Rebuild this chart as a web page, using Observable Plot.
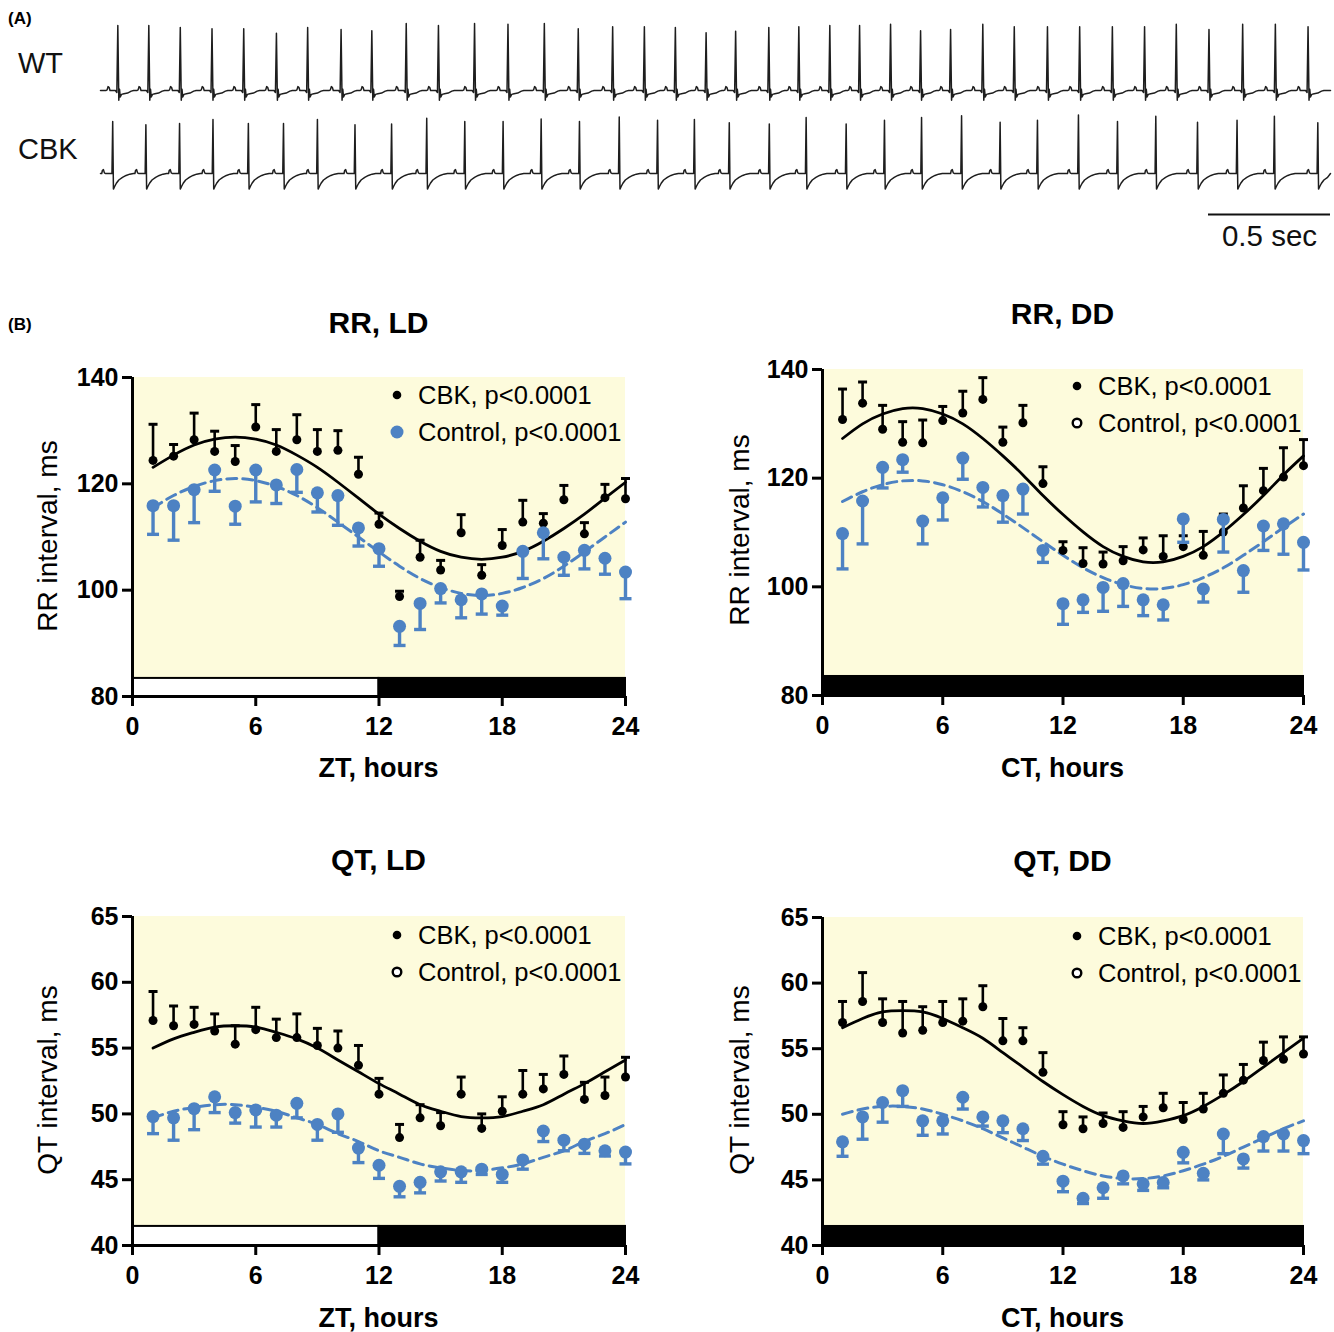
<!DOCTYPE html>
<html>
<head>
<meta charset="utf-8">
<script src="https://cdn.jsdelivr.net/npm/d3@7"></script>
<script src="https://cdn.jsdelivr.net/npm/@observablehq/plot@0.6"></script>
<style>
  html, body { margin: 0; padding: 0; background: #fff; }
  #root { position: relative; width: 1334px; height: 1332px; background: #fff; overflow: hidden;
          font-family: Arial, "Liberation Sans", sans-serif; color: #000; }
  .abs { position: absolute; white-space: nowrap; }
  .plotbox { position: absolute; }
  .plotbox svg { overflow: visible; }
</style>
</head>
<body>
<div id="root"></div>
<script>
// ---------------- DATA ----------------
const hours = [1,2,3,4,5,6,7,8,9,10,11,12,13,14,15,16,17,18,19,20,21,22,23,24];

// RR, LD
const rrLdCbk    = [124.4,125.2,128.3,126.1,124.2,130.7,126.1,128.3,126.1,126.3,121.8,112.4,98.8,106.2,103.8,110.8,102.8,108.4,112.8,112.6,117.0,110.6,117.4,117.2];
const rrLdCbkSem = [6.8,2.2,5.0,3.8,3.0,4.2,4.1,4.7,4.1,3.7,3.2,2.1,1.0,3.2,1.8,3.4,2.0,3.0,4.1,1.8,2.7,2.1,2.5,3.8];
const rrLdCtl    = [115.9,115.9,118.9,122.6,115.8,122.6,119.8,122.7,118.3,117.8,111.7,107.8,93.2,97.5,100.3,98.2,99.3,97.0,107.3,110.8,106.2,107.5,106.0,103.4];
const rrLdCtlSem = [5.4,6.5,6.2,4.0,3.4,6.0,3.5,4.3,3.6,5.6,3.4,3.3,3.6,4.9,2.7,3.4,3.8,1.7,5.1,4.9,3.4,3.5,3.0,5.0];
const rrLdCbkFit = [123.1,125.4,127.3,128.4,128.8,128.4,127.3,125.4,123.1,120.3,117.3,114.3,111.6,109.2,107.3,106.2,105.8,106.2,107.3,109.2,111.6,114.3,117.3,120.3];
const rrLdCtlFit = [115.5,117.8,119.5,120.6,121.0,120.6,119.5,117.8,115.5,112.8,110.0,107.2,104.5,102.2,100.5,99.4,99.0,99.4,100.5,102.2,104.5,107.2,110.0,112.8];

// RR, DD
const rrDdCbk    = [130.8,133.8,129.0,126.6,126.5,130.6,132.0,134.5,126.6,130.2,119.0,106.7,104.3,104.2,104.8,106.8,105.6,107.4,105.8,110.1,114.5,117.7,120.2,122.3];
const rrDdCbkSem = [5.6,3.9,4.4,3.8,4.2,2.6,4.0,4.0,2.8,3.2,3.1,1.6,2.9,2.2,2.6,2.2,3.8,2.0,4.4,3.3,4.1,4.1,5.4,4.8];
const rrDdCtl    = [109.8,115.8,122.0,123.4,112.1,116.4,123.7,118.3,116.8,118.0,106.7,96.9,97.6,99.9,100.6,97.6,96.7,112.5,99.6,112.4,103.0,111.2,111.6,108.2];
const rrDdCtlSem = [6.5,7.9,3.8,2.3,4.2,4.1,3.9,3.6,4.9,4.6,2.2,3.8,2.3,4.4,4.2,2.9,2.8,4.3,2.4,6.0,4.0,4.5,5.6,5.1];
const rrDdCbkFit = [127.3,130.0,131.8,132.8,132.8,131.8,130.0,127.3,124.1,120.6,116.8,113.3,110.1,107.4,105.6,104.6,104.6,105.6,107.4,110.1,113.3,116.8,120.6,124.1];
const rrDdCtlFit = [115.7,117.5,118.8,119.5,119.5,118.8,117.5,115.7,113.4,110.9,108.3,105.8,103.5,101.7,100.4,99.7,99.7,100.4,101.7,103.5,105.8,108.3,110.9,113.4];

// QT, LD
const qtLdCbk    = [57.1,56.7,56.8,56.3,55.3,56.4,55.8,55.8,55.2,55.0,53.7,51.5,48.2,49.7,49.1,51.5,48.9,50.2,51.5,51.9,53.0,51.1,51.4,52.8];
const qtLdCbkSem = [2.2,1.5,1.3,1.3,1.4,1.7,1.4,1.8,1.3,1.3,1.5,1.2,1.0,1.0,1.0,1.3,1.1,1.1,1.8,1.1,1.4,1.3,1.4,1.5];
const qtLdCtl    = [49.8,49.7,50.4,51.3,50.1,50.3,49.9,50.8,49.2,50.0,47.4,46.1,44.5,44.8,45.6,45.6,45.8,45.4,46.5,48.7,48.0,47.7,47.2,47.1];
const qtLdCtlSem = [1.3,1.7,1.6,1.2,0.8,1.3,0.9,1.1,1.2,1.4,1.1,1.0,0.8,0.8,0.7,0.8,0.4,0.6,0.7,0.8,0.8,0.7,0.4,0.9];
const qtLdCbkFit = [55.0,55.7,56.2,56.6,56.7,56.6,56.2,55.7,55.0,54.1,53.2,52.3,51.5,50.7,50.2,49.8,49.7,49.8,50.2,50.7,51.5,52.3,53.2,54.1];
const qtLdCtlFit = [49.7,50.2,50.5,50.7,50.7,50.5,50.2,49.7,49.2,48.5,47.9,47.2,46.7,46.2,45.9,45.7,45.7,45.9,46.2,46.7,47.2,47.9,48.5,49.2];

// QT, DD
const qtDdCbk    = [57.0,58.6,57.0,56.2,56.4,57.0,57.1,58.2,55.6,55.6,53.2,49.2,48.9,49.3,49.0,49.8,50.5,49.6,50.4,51.6,52.6,54.1,54.2,54.6];
const qtDdCbkSem = [1.6,2.2,1.8,2.4,1.8,1.6,1.7,1.6,1.7,1.0,1.5,1.0,0.9,0.8,1.2,0.8,1.1,1.3,1.2,1.4,1.2,1.4,1.7,1.3];
const qtDdCtl    = [47.9,49.8,50.9,51.8,49.5,49.5,51.3,49.8,49.5,48.9,46.8,44.9,43.6,44.4,45.3,44.7,44.8,47.1,45.5,48.5,46.6,48.3,48.5,48.0];
const qtDdCtlSem = [1.1,1.7,1.5,1.2,1.1,1.0,0.9,0.7,0.9,0.9,0.6,0.8,0.4,0.8,0.6,0.5,0.4,0.8,0.5,1.5,0.7,1.1,1.3,1.0];
const qtDdCbkFit = [56.6,57.3,57.8,57.9,57.8,57.3,56.6,55.8,54.7,53.6,52.5,51.5,50.6,49.9,49.5,49.3,49.5,49.9,50.6,51.5,52.5,53.6,54.7,55.8];
const qtDdCtlFit = [50.0,50.4,50.6,50.6,50.4,50.0,49.5,48.9,48.2,47.5,46.8,46.2,45.7,45.3,45.1,45.1,45.3,45.7,46.2,46.8,47.5,48.2,48.9,49.5];

const rrTicks = [80,100,120,140];
const qtTicks = [40,45,50,55,60,65];
const hourTicks = [0,6,12,18,24];
const ldPhases = [{start: 0, end: 12, light: true}, {start: 12, end: 24, light: false}];
const ddPhases = [{start: 0, end: 24, light: false}];
const legendLabels = ["CBK, p<0.0001", "Control, p<0.0001"];

// ECG traces (panel A): R-peak times (s) and R amplitudes (mV, approx.)
const wtBeatTimes = [0.071,0.198,0.327,0.457,0.587,0.721,0.849,0.986,1.112,1.253,1.385,1.533,1.670,1.819,1.958,2.099,2.229,2.356,2.482,2.603,2.739,2.862,2.989,3.111,3.238,3.361,3.484,3.616,3.745,3.881,4.013,4.147,4.279,4.409,4.543,4.681,4.815,4.949];
const wtBeatAmps  = [1.00,1.00,0.97,0.95,0.95,0.88,0.97,0.94,0.92,1.03,1.00,1.03,1.02,1.03,0.95,0.98,0.98,0.97,0.89,0.91,0.97,0.98,1.00,1.00,1.02,0.92,0.94,1.02,0.98,0.98,0.98,0.98,0.98,1.02,0.94,1.02,1.02,0.98];
const cbkBeatTimes = [0.050,0.186,0.324,0.461,0.606,0.750,0.889,1.043,1.193,1.337,1.493,1.650,1.806,1.963,2.126,2.283,2.434,2.577,2.741,2.892,3.056,3.213,3.365,3.529,3.687,3.840,4.008,4.168,4.325,4.496,4.658,4.811,4.989];
const cbkBeatAmps  = [0.80,0.75,0.77,0.83,0.77,0.77,0.83,0.75,0.76,0.85,0.80,0.80,0.84,0.80,0.87,0.82,0.83,0.78,0.76,0.86,0.76,0.82,0.86,0.89,0.79,0.82,0.90,0.80,0.88,0.79,0.82,0.88,0.78];
// beat waveform: [ms from R peak, mV]; the R point (0 ms) takes the beat amplitude
const wtBeatShape  = [[-48,0],[-44,0.01],[-40,0.06],[-36,0.05],[-32,0],[-10,0],[-4,-0.03],[0,null],[4,-0.15],[7,0.02],[10,-0.10],[15,-0.06],[25,-0.05],[40,-0.04],[55,-0.01],[65,0]];
const cbkBeatShape = [[-45,0],[-42,0.05],[-38,0.06],[-34,0.01],[-30,0],[-3,0],[0,null],[3,-0.24],[8,-0.20],[15,-0.15],[25,-0.10],[40,-0.06],[55,-0.03],[70,-0.01],[85,0]];
const traceDuration = 5.041;      // s
const scaleBar = [{t0: 4.541, t1: 5.041, label: "0.5 sec"}];

// ---------------- STYLE ----------------
const BLUE = "#4d82c3";
const YELLOW = "#fdfbdc";
const FONT = "Arial, 'Liberation Sans', sans-serif";

const root = document.getElementById("root");

function addText(txt, o) {
  const d = document.createElement("div");
  d.className = "abs";
  d.textContent = txt;
  const fs = o.size;
  d.style.fontSize = fs + "px";
  d.style.lineHeight = fs + "px";
  d.style.fontWeight = o.bold ? "bold" : "normal";
  if (o.family) d.style.fontFamily = o.family;
  if (o.color) d.style.color = o.color;
  if (o.center) {
    d.style.width = "400px";
    d.style.textAlign = "center";
    d.style.left = (o.cx - 200) + "px";
    d.style.top = (o.cy - 0.49 * fs) + "px";
  } else {
    d.style.left = o.x + "px";
    d.style.top = (o.cy - 0.49 * fs) + "px";
  }
  if (o.rotate) {
    d.style.height = fs + "px";
    d.style.top = (o.cy - fs / 2) + "px";
    d.style.transform = "rotate(-90deg)";
  }
  root.appendChild(d);
  return d;
}

function addBox(node, left, top) {
  const w = document.createElement("div");
  w.className = "plotbox";
  w.style.left = left + "px";
  w.style.top = top + "px";
  w.appendChild(node);
  root.appendChild(w);
}

// ---------------- PANEL A: ECG ----------------
function buildTrace(times, amps, shape) {
  const pts = [{t: 0, v: 0}];
  times.forEach((tR, i) => {
    shape.forEach(([dt, v]) => {
      const t = tR + dt / 1000;
      if (t > 0 && t < traceDuration) pts.push({t, v: v === null ? amps[i] : v});
    });
  });
  pts.push({t: traceDuration, v: 0});
  pts.sort((a, b) => a.t - b.t);
  return pts;
}
const wtTrace = buildTrace(wtBeatTimes, wtBeatAmps, wtBeatShape);
const cbkTrace = buildTrace(cbkBeatTimes, cbkBeatAmps, cbkBeatShape);

const wtPlot = Plot.plot({
  width: 1334, height: 112, margin: 0,
  style: {background: "none", overflow: "visible"},
  x: {domain: [0, traceDuration], range: [100, 1330], axis: null},
  y: {domain: [-0.3, 1.2], range: [109.5, 12], axis: null},
  marks: [Plot.line(wtTrace, {x: "t", y: "v", stroke: "#1e1e1e", strokeWidth: 1.5})]
});
addBox(wtPlot, 0, 0);

const cbkPlot = Plot.plot({
  width: 1334, height: 160, margin: 0,
  style: {background: "none", overflow: "visible", fontFamily: FONT},
  x: {domain: [0, traceDuration], range: [100, 1330], axis: null},
  y: {domain: [-0.8, 1.0], range: [125, 8], axis: null},
  marks: [
    Plot.line(cbkTrace, {x: "t", y: "v", stroke: "#1e1e1e", strokeWidth: 1.5}),
    Plot.ruleY(scaleBar, {x1: "t0", x2: "t1", y: () => -0.63, stroke: "#111", strokeWidth: 2}),
    Plot.text(scaleBar, {x: d => (d.t0 + d.t1) / 2, y: () => -0.63, text: "label", dy: 22, fontSize: 29.5, fill: "#111"})
  ]
});
addBox(cbkPlot, 0, 100);

addText("(A)", {x: 8, cy: 18, size: 17, bold: true});
addText("WT", {x: 18, cy: 63, size: 29, color: "#111"});
addText("CBK", {x: 18, cy: 149, size: 29, color: "#111"});
addText("(B)", {x: 8, cy: 324, size: 17, bold: true});

// ---------------- PANEL B: cosinor charts ----------------
const capSymbol = {
  draw(context, size) {
    const r = Math.sqrt(size / Math.PI);
    context.moveTo(-r, 0);
    context.lineTo(r, 0);
  }
};

const panels = [
  {title: "RR, LD", ylabel: "RR interval, ms", xlabel: "ZT, hours",
   cbk: rrLdCbk, cbkSem: rrLdCbkSem, ctl: rrLdCtl, ctlSem: rrLdCtlSem, cbkFit: rrLdCbkFit, ctlFit: rrLdCtlFit,
   yDomain: [80, 140], yTicks: rrTicks, barTop: 83.4, phases: ldPhases, filledLegend: true,
   box: {left: 0, top: 360, mt: 17, mb: 64, ml: 132, mr: 42},
   titleY: 323, ylabelX: 48, ylabelY: 536, xlabelY: 768, legendX: 397, legendY: [395, 432]},
  {title: "RR, DD", ylabel: "RR interval, ms", xlabel: "CT, hours",
   cbk: rrDdCbk, cbkSem: rrDdCbkSem, ctl: rrDdCtl, ctlSem: rrDdCtlSem, cbkFit: rrDdCbkFit, ctlFit: rrDdCtlFit,
   yDomain: [80, 140], yTicks: rrTicks, barTop: 83.5, phases: ddPhases, filledLegend: false,
   box: {left: 667, top: 350, mt: 19, mb: 55, ml: 155, mr: 31},
   titleY: 314, ylabelX: 740, ylabelY: 530, xlabelY: 768, legendX: 1077, legendY: [386, 423]},
  {title: "QT, LD", ylabel: "QT interval, ms", xlabel: "ZT, hours",
   cbk: qtLdCbk, cbkSem: qtLdCbkSem, ctl: qtLdCtl, ctlSem: qtLdCtlSem, cbkFit: qtLdCbkFit, ctlFit: qtLdCtlFit,
   yDomain: [40, 65], yTicks: qtTicks, barTop: 41.45, phases: ldPhases, filledLegend: false,
   box: {left: 0, top: 895, mt: 21, mb: 50, ml: 132, mr: 42},
   titleY: 860, ylabelX: 48, ylabelY: 1080, xlabelY: 1318, legendX: 397, legendY: [935, 972]},
  {title: "QT, DD", ylabel: "QT interval, ms", xlabel: "CT, hours",
   cbk: qtDdCbk, cbkSem: qtDdCbkSem, ctl: qtDdCtl, ctlSem: qtDdCtlSem, cbkFit: qtDdCbkFit, ctlFit: qtDdCtlFit,
   yDomain: [40, 65], yTicks: qtTicks, barTop: 41.45, phases: ddPhases, filledLegend: false,
   box: {left: 667, top: 895, mt: 22, mb: 50, ml: 155, mr: 31},
   titleY: 861, ylabelX: 740, ylabelY: 1080, xlabelY: 1318, legendX: 1077, legendY: [936, 973]}
];

panels.forEach(p => {
  const rows = hours.map((h, i) => ({
    h, cbk: p.cbk[i], cbkTop: p.cbk[i] + p.cbkSem[i],
    ctl: p.ctl[i], ctlBot: p.ctl[i] - p.ctlSem[i],
    cbkFit: p.cbkFit[i], ctlFit: p.ctlFit[i]
  }));
  const [ymin, ymax] = p.yDomain;
  const b = p.box;
  const W = 667, H = 400;
  const chart = Plot.plot({
    width: W, height: H,
    marginLeft: b.ml, marginRight: b.mr, marginTop: b.mt, marginBottom: b.mb,
    style: {background: "none", overflow: "visible", fontFamily: FONT, fontWeight: "bold", fontSize: "24px", color: "#000"},
    x: {domain: [0, 24]},
    y: {domain: p.yDomain},
    marks: [
      Plot.rect([p], {x1: () => 0, x2: () => 24, y1: d => d.barTop, y2: () => ymax, fill: YELLOW}),
      Plot.rect(p.phases, {x1: "start", x2: "end", y1: () => ymin, y2: () => p.barTop,
        fill: d => d.light ? "white" : "black", stroke: "black", strokeWidth: 2}),
      Plot.line(rows, {x: "h", y: "cbkFit", curve: "natural", stroke: "black", strokeWidth: 2.8}),
      Plot.line(rows, {x: "h", y: "ctlFit", curve: "natural", stroke: BLUE, strokeWidth: 3, strokeDasharray: "10,6"}),
      Plot.ruleX(rows, {x: "h", y1: "cbk", y2: "cbkTop", stroke: "black", strokeWidth: 2.6}),
      Plot.dot(rows, {x: "h", y: "cbkTop", symbol: capSymbol, r: 4.5, fill: "none", stroke: "black", strokeWidth: 3}),
      Plot.dot(rows, {x: "h", y: "cbk", r: 4.5, fill: "black", stroke: "none"}),
      Plot.ruleX(rows, {x: "h", y1: "ctl", y2: "ctlBot", stroke: BLUE, strokeWidth: 3.4}),
      Plot.dot(rows, {x: "h", y: "ctlBot", symbol: capSymbol, r: 6, fill: "none", stroke: BLUE, strokeWidth: 3.4}),
      Plot.dot(rows, {x: "h", y: "ctl", r: 6.5, fill: BLUE, stroke: "none"}),
      Plot.axisX({ticks: hourTicks, tickSize: 10, tickPadding: 11, strokeWidth: 3, label: null, fontSize: 25}),
      Plot.axisY({ticks: p.yTicks, tickSize: 10, tickPadding: 4, strokeWidth: 3, label: null, fontSize: 25}),
      Plot.ruleX([0], {y1: () => ymin, y2: () => ymax, stroke: "black", strokeWidth: 3}),
      Plot.ruleY([ymin], {x1: () => 0, x2: () => 24, stroke: "black", strokeWidth: 3})
    ]
  });
  addBox(chart, b.left, b.top);

  const cx = b.left + b.ml + (W - b.ml - b.mr) / 2;
  addText(p.title, {center: true, cx, cy: p.titleY, size: 30, bold: true});
  addText(p.xlabel, {center: true, cx, cy: p.xlabelY, size: 27, bold: true});
  addText(p.ylabel, {center: true, cx: p.ylabelX, cy: p.ylabelY, size: 28, rotate: true});

  // legend
  p.legendY.forEach((ly, k) => {
    const svgNS = "http://www.w3.org/2000/svg";
    const s = document.createElementNS(svgNS, "svg");
    s.setAttribute("width", 20); s.setAttribute("height", 20);
    s.style.position = "absolute";
    s.style.left = (p.legendX - 10) + "px";
    s.style.top = (ly - 10) + "px";
    const c = document.createElementNS(svgNS, "circle");
    c.setAttribute("cx", 10); c.setAttribute("cy", 10);
    if (k === 0) { c.setAttribute("r", 4.3); c.setAttribute("fill", "black"); }
    else if (p.filledLegend) { c.setAttribute("r", 6.5); c.setAttribute("fill", BLUE); }
    else { c.setAttribute("r", 4.3); c.setAttribute("fill", "white"); c.setAttribute("stroke", "black"); c.setAttribute("stroke-width", 2.4); }
    s.appendChild(c);
    root.appendChild(s);
    addText(legendLabels[k], {x: p.legendX + 21, cy: ly, size: 25.5});
  });
});
</script>
</body>
</html>
